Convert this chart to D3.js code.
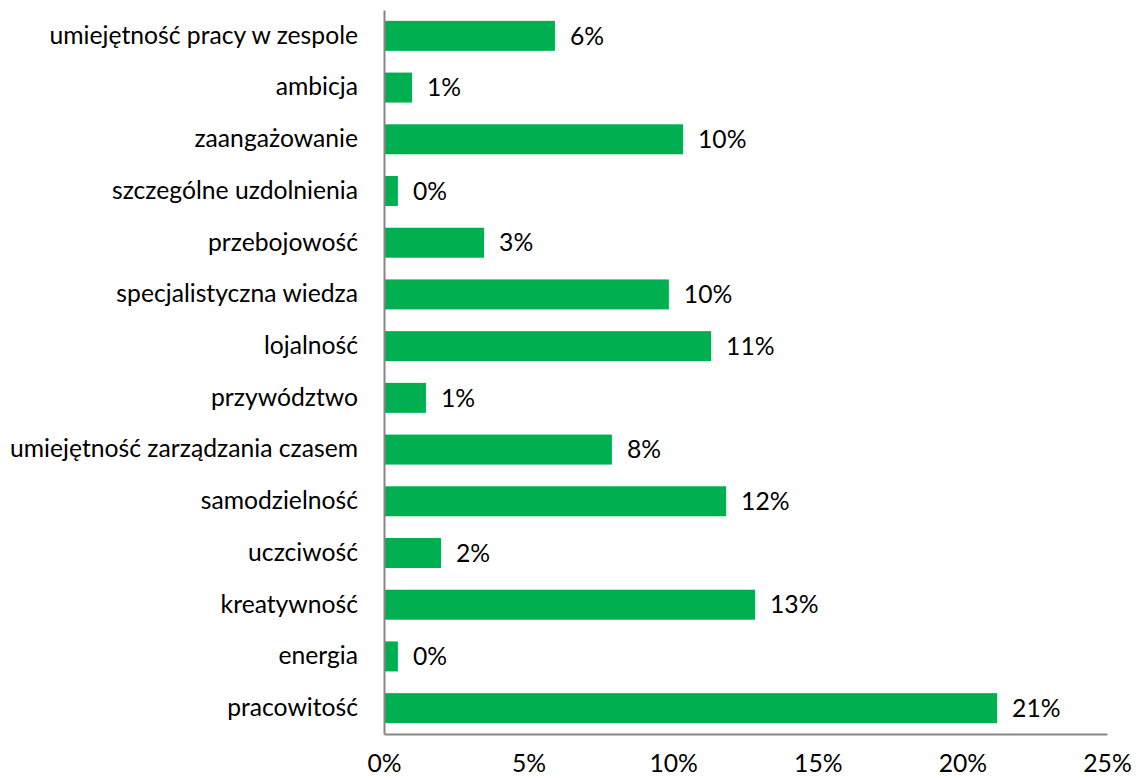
<!DOCTYPE html>
<html>
<head>
<meta charset="utf-8">
<script src="https://cdn.jsdelivr.net/npm/d3@7"></script>
<style>
  html, body { margin: 0; padding: 0; background: #ffffff; }
  svg { display: block; }
  text { font-family: Lato, "Open Sans", sans-serif; fill: #000000; }
</style>
</head>
<body>
<svg id="chart" width="1136" height="780"></svg>
<script>
// Cechy pracownika – odsetek wskazań (top to bottom)
const categories = [
  "umiejętność pracy w zespole",
  "ambicja",
  "zaangażowanie",
  "szczególne uzdolnienia",
  "przebojowość",
  "specjalistyczna wiedza",
  "lojalność",
  "przywództwo",
  "umiejętność zarządzania czasem",
  "samodzielność",
  "uczciwość",
  "kreatywność",
  "energia",
  "pracowitość"
];
const values = [0.0591, 0.0097, 0.1034, 0.0048, 0.0346, 0.0985, 0.1131,
                0.0145, 0.0788, 0.1183, 0.0197, 0.1283, 0.0048, 0.2120];
const xTicks = [0, 0.05, 0.10, 0.15, 0.20, 0.25];

const svg = d3.select("#chart");
const margin = { top: 10, right: 29, bottom: 46, left: 384 };
const width = 1136, height = 780;
const fontSize = 24.7;

const x = d3.scaleLinear()
  .domain([0, 0.25])
  .range([margin.left, width - margin.right]);

const y = d3.scaleBand()
  .domain(categories)
  .range([margin.top, height - margin.bottom])
  .paddingInner(0.42)
  .paddingOuter(0.21);

const pct = d3.format(".0%");

// bars
svg.append("g")
  .selectAll("rect")
  .data(categories)
  .join("rect")
  .attr("x", x(0))
  .attr("y", d => y(d))
  .attr("width", (d, i) => x(values[i]) - x(0))
  .attr("height", y.bandwidth())
  .attr("fill", "#00b050");

// value labels
svg.append("g")
  .selectAll("text")
  .data(categories)
  .join("text")
  .attr("x", (d, i) => x(values[i]) + 15)
  .attr("y", d => y(d) + y.bandwidth() / 2)
  .attr("dy", "0.35em")
  .style("font-size", fontSize + "px")
  .text((d, i) => pct(values[i]));

// category axis
const yAxis = svg.append("g")
  .attr("transform", `translate(${x(0)},0)`)
  .call(d3.axisLeft(y).tickSize(0).tickPadding(26).tickSizeOuter(0));
yAxis.select(".domain").attr("stroke", "#868686").attr("stroke-width", 2);
yAxis.selectAll("text").style("font-size", fontSize + "px").attr("fill", "#000");

// value axis
const xAxis = svg.append("g")
  .attr("transform", `translate(0,${height - margin.bottom})`)
  .call(d3.axisBottom(x).tickValues(xTicks).tickFormat(pct).tickSize(0).tickPadding(20).tickSizeOuter(0));
xAxis.select(".domain").attr("stroke", "#868686").attr("stroke-width", 2);
xAxis.selectAll("text").style("font-size", fontSize + "px").attr("fill", "#000");
</script>
</body>
</html>
